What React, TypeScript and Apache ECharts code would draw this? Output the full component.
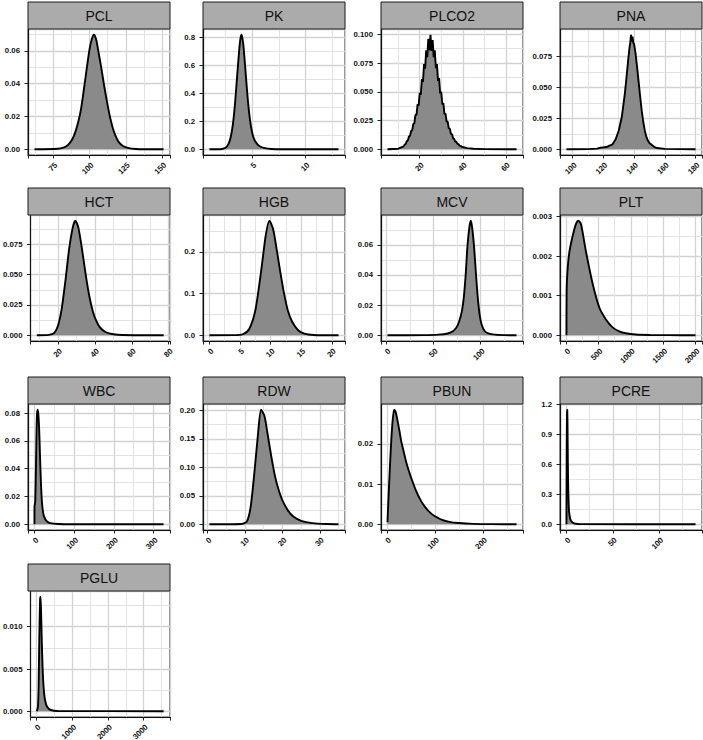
import React, { useEffect, useRef } from "react";
import * as echarts from "echarts";

// ---- data (density curves) ----
const pclX = [62, 78, 82, 85, 88, 90, 92, 94, 96, 98, 100, 101.5, 103, 104.5, 106, 108, 110, 112, 114, 116, 118, 120, 123, 127, 132, 140, 151];
const pclY = [0, 0.0003, 0.001, 0.0025, 0.006, 0.01, 0.016, 0.024, 0.036, 0.049, 0.061, 0.067, 0.0698, 0.067, 0.06, 0.05, 0.039, 0.029, 0.02, 0.013, 0.008, 0.0045, 0.002, 0.0007, 0.0002, 0.00005, 0];

const pkX = [1.0, 2.0, 2.5, 2.8, 3.0, 3.2, 3.4, 3.6, 3.8, 3.9, 4.0, 4.1, 4.2, 4.4, 4.6, 4.8, 5.0, 5.2, 5.5, 5.8, 6.2, 6.8, 8, 13.1];
const pkY = [0, 0.0005, 0.01, 0.04, 0.09, 0.18, 0.33, 0.53, 0.72, 0.79, 0.82, 0.79, 0.73, 0.54, 0.35, 0.21, 0.12, 0.07, 0.035, 0.018, 0.008, 0.002, 0.0003, 0];

const plco2X = [5, 10, 12, 12.5, 13, 13.5, 14, 14.5, 15, 15.5, 16, 16.5, 17, 17.5, 18, 18.5, 19, 19.5, 20, 20.5, 21, 21.5, 22, 22.5, 23, 23.5, 24, 24.5, 25, 25.5, 26, 26.5, 27, 27.5, 28, 28.5, 29, 29.5, 30, 30.5, 31, 31.5, 32, 32.5, 33, 33.5, 34, 34.5, 35, 35.5, 36, 36.5, 37, 37.5, 38, 38.5, 39, 39.5, 40, 42, 45, 50, 65];
const plco2Y = [0, 0.0005, 0.002, 0.0026, 0.004, 0.0048, 0.007, 0.0078, 0.011, 0.0117, 0.016, 0.0164, 0.022, 0.0225, 0.03, 0.0298, 0.039, 0.038, 0.049, 0.0475, 0.061, 0.0585, 0.074, 0.070, 0.086, 0.080, 0.096, 0.086, 0.0996, 0.0855, 0.095, 0.080, 0.086, 0.0705, 0.074, 0.0595, 0.062, 0.0485, 0.05, 0.039, 0.04, 0.0305, 0.031, 0.0238, 0.024, 0.0182, 0.018, 0.0134, 0.013, 0.0095, 0.009, 0.0067, 0.0065, 0.0047, 0.0045, 0.0032, 0.003, 0.0022, 0.002, 0.001, 0.0004, 0.0001, 0];

const pnaX = [96, 110, 116, 118, 120, 122, 124, 126, 128, 130, 132, 134, 135, 136, 137, 137.5, 138, 138.5, 139, 139.5, 140, 141, 142, 143, 144, 145, 146, 147, 148, 149, 150, 151, 152, 153, 155, 160, 170, 180];
const pnaY = [0, 0.0001, 0.0005, 0.0012, 0.0015, 0.0018, 0.003, 0.004, 0.008, 0.015, 0.026, 0.045, 0.057, 0.07, 0.082, 0.086, 0.0925, 0.087, 0.091, 0.086, 0.085, 0.077, 0.066, 0.054, 0.042, 0.031, 0.022, 0.015, 0.01, 0.007, 0.005, 0.004, 0.003, 0.002, 0.001, 0.0003, 0.0001, 0];

const hctX = [8.5, 15, 18, 20, 22, 24, 26, 28, 29.4, 31, 33, 35, 37, 39, 41, 43, 46, 50, 55, 77.3];
const hctY = [0, 0.0003, 0.002, 0.008, 0.022, 0.045, 0.071, 0.089, 0.0945, 0.089, 0.071, 0.05, 0.032, 0.019, 0.011, 0.006, 0.0025, 0.0008, 0.0002, 0];

const hgbX = [0, 4, 5.5, 6.5, 7.5, 8.5, 9.2, 9.8, 10.4, 11, 11.6, 12.2, 12.8, 13.5, 14.5, 15.5, 17, 21.1];
const hgbY = [0, 0.0003, 0.003, 0.015, 0.06, 0.16, 0.24, 0.275, 0.255, 0.205, 0.15, 0.1, 0.06, 0.033, 0.012, 0.004, 0.0008, 0];

const mcvX = [1, 40, 55, 65, 70, 74, 77, 80, 82, 84, 86, 88, 89.5, 91, 93, 95, 97, 99, 101, 104, 108, 115, 125, 138];
const mcvY = [0, 0.0001, 0.0004, 0.0012, 0.0025, 0.005, 0.009, 0.016, 0.025, 0.04, 0.06, 0.072, 0.076, 0.071, 0.058, 0.04, 0.024, 0.013, 0.007, 0.003, 0.0012, 0.0004, 0.0001, 0];

const pltX = [5, 8, 20, 50, 100, 150, 190, 230, 308, 410, 513, 615, 718, 821, 923, 1077, 1300, 1600, 2000];
const pltY = [0, 0.00115, 0.0016, 0.0021, 0.0025, 0.0028, 0.00289, 0.0028, 0.0021, 0.0013, 0.0007, 0.0004, 0.0002, 0.0001, 0.00005, 0.00002, 0.000008, 0.000003, 0];

const wbcX = [0.1, 0.3, 2, 3.5, 5, 6.5, 8, 10, 12, 14, 16, 18, 20, 23, 27, 32, 40, 60, 100, 325];
const wbcY = [0, 0.013, 0.016, 0.035, 0.062, 0.079, 0.0825, 0.079, 0.068, 0.05, 0.033, 0.02, 0.0125, 0.0068, 0.0038, 0.002, 0.0008, 0.0002, 0.00005, 0];

const rdwX = [0.5, 9, 10.5, 11.5, 12.5, 13.5, 14.3, 15.2, 16, 17, 18, 19, 20, 21.5, 23, 25, 28, 32, 35];
const rdwY = [0, 0.0005, 0.005, 0.03, 0.09, 0.16, 0.201, 0.19, 0.16, 0.12, 0.085, 0.06, 0.042, 0.024, 0.013, 0.006, 0.002, 0.0004, 0];

const pbunX = [1, 3, 6, 9, 12, 15, 18, 22, 26, 30, 35, 40, 45, 50, 60, 70, 80, 90, 100, 115, 130, 150, 180, 220, 270];
const pbunY = [0.0005, 0.006, 0.014, 0.021, 0.026, 0.0285, 0.028, 0.0258, 0.0232, 0.0205, 0.018, 0.0155, 0.0135, 0.0117, 0.0085, 0.006, 0.0042, 0.0029, 0.002, 0.0011, 0.0006, 0.0003, 0.0001, 0.00003, 0];

const pcreX = [0.1, 0.15, 0.4, 0.7, 0.95, 1.2, 1.6, 2, 2.5, 3, 4, 5, 7, 10, 15, 139];
const pcreY = [0, 0.25, 0.8, 1.1, 1.143, 1.02, 0.62, 0.36, 0.2, 0.12, 0.06, 0.035, 0.015, 0.005, 0.001, 0];

const pgluX = [10, 40, 60, 80, 100, 115, 130, 150, 170, 200, 240, 300, 400, 600, 3560];
const pgluY = [0, 0.0005, 0.003, 0.009, 0.0132, 0.01355, 0.0115, 0.008, 0.0052, 0.0028, 0.0013, 0.0005, 0.00015, 0.00004, 0];

const panelNames = ["PCL", "PK", "PLCO2", "PNA", "HCT", "HGB", "MCV", "PLT", "WBC", "RDW", "PBUN", "PCRE", "PGLU"];
const xSeries = [pclX, pkX, plco2X, pnaX, hctX, hgbX, mcvX, pltX, wbcX, rdwX, pbunX, pcreX, pgluX];
const ySeries = [pclY, pkY, plco2Y, pnaY, hctY, hgbY, mcvY, pltY, wbcY, rdwY, pbunY, pcreY, pgluY];
// tick steps (break spacing) and label decimals per panel
const xSteps = [25, 5, 20, 20, 20, 5, 50, 500, 100, 10, 100, 50, 1000];
const ySteps = [0.02, 0.2, 0.025, 0.025, 0.025, 0.1, 0.02, 0.001, 0.02, 0.05, 0.01, 0.3, 0.005];
const yDecimals = [2, 1, 3, 3, 3, 1, 2, 3, 2, 2, 2, 1, 3];
const smoothFlags = [0.25, 0.25, false, false, 0.25, 0.25, 0.25, 0.25, 0.2, 0.25, 0.25, 0.1, 0.15];

// ---- layout ----
const COL_LEFT = [28, 203, 381, 560];
const PANEL_W = 142;
const PANEL_TOP = [29, 215, 404, 591];
const PANEL_H = 126;
const STRIP_H = 27;

const FONT = "'Liberation Sans', Arial, Helvetica, sans-serif";
const LABEL_FONT = `bold 7.8px ${FONT}`;

export default function App() {
  const ref = useRef<HTMLDivElement>(null);
  useEffect(() => {
    document.body.style.margin = "0";
    const chart = echarts.init(ref.current!, null, { renderer: "svg" });
    const grid: any[] = [];
    const xAxis: any[] = [];
    const yAxis: any[] = [];
    const series: any[] = [];
    const graphic: any[] = [];
    const xRanges: [number, number][] = [];

    panelNames.forEach((name, i) => {
      const col = i % 4;
      const row = Math.floor(i / 4);
      const left = COL_LEFT[col];
      const top = PANEL_TOP[row];
      const xs = xSeries[i];
      const ys = ySeries[i];
      const xmin = Math.min(...xs);
      const xmax = Math.max(...xs);
      const xr = xmax - xmin;
      const ymax = Math.max(...ys);
      const lo = xmin - 0.05 * xr;
      const hi = xmax + 0.05 * xr;
      xRanges.push([lo, hi]);

      grid.push({
        left,
        top,
        width: PANEL_W,
        height: PANEL_H,
        show: true,
        backgroundColor: "#ffffff",
        borderColor: "#1a1a1a",
        borderWidth: 1,
      });

      xAxis.push({
        type: "value",
        gridIndex: i,
        min: lo,
        max: hi,
        minInterval: xSteps[i],
        maxInterval: xSteps[i],
        axisLine: { show: true, onZero: false, lineStyle: { color: "#111111", width: 1.2 } },
        axisTick: { show: true, length: 3.5, lineStyle: { color: "#222222", width: 1 } },
        axisLabel: { show: false },
        splitLine: { show: true, lineStyle: { color: "#d3d3d3", width: 1.3 } },
        minorTick: { show: false, splitNumber: 2 },
        minorSplitLine: { show: true, lineStyle: { color: "#e0e0e0", width: 0.9 } },
      });

      yAxis.push({
        type: "value",
        gridIndex: i,
        min: -0.05 * ymax,
        max: 1.05 * ymax,
        minInterval: ySteps[i],
        maxInterval: ySteps[i],
        axisLine: { show: true, onZero: false, lineStyle: { color: "#111111", width: 1.2 } },
        axisTick: { show: true, length: 3.5, lineStyle: { color: "#222222", width: 1 } },
        axisLabel: {
          fontSize: 7.8,
          fontWeight: "bold",
          fontFamily: FONT,
          color: "#111111",
          margin: 8,
          showMinLabel: false,
          showMaxLabel: false,
          formatter: (v: number) => v.toFixed(yDecimals[i]),
        },
        splitLine: { show: true, lineStyle: { color: "#d3d3d3", width: 1.3 } },
        minorTick: { show: false, splitNumber: 2 },
        minorSplitLine: { show: true, lineStyle: { color: "#e0e0e0", width: 0.9 } },
      });

      series.push({
        type: "line",
        name,
        xAxisIndex: i,
        yAxisIndex: i,
        data: xs.map((v, j) => [v, ys[j]]),
        showSymbol: false,
        symbol: "none",
        smooth: smoothFlags[i],
        lineStyle: { color: "#000000", width: 1.9 },
        areaStyle: { color: "#8a8a8a", opacity: 1 },
        silent: true,
      });

      graphic.push({
        type: "rect",
        shape: { x: left, y: top - STRIP_H, width: PANEL_W, height: STRIP_H },
        style: { fill: "#ababab", stroke: "#1a1a1a", lineWidth: 1 },
        z: 10,
      });
      graphic.push({
        type: "text",
        x: left + PANEL_W / 2,
        y: top - STRIP_H / 2,
        style: {
          text: name,
          fill: "#111111",
          font: `14px ${FONT}`,
          textAlign: "center",
          textVerticalAlign: "middle",
        },
        z: 11,
      });
    });

    chart.setOption({
      animation: false,
      backgroundColor: "#ffffff",
      grid,
      xAxis,
      yAxis,
      series,
      graphic,
    });

    // rotated x tick labels (45°, right-justified at the tick), placed through the axis scale
    const labels: any[] = [];
    panelNames.forEach((_, i) => {
      const [lo, hi] = xRanges[i];
      const step = xSteps[i];
      const row = Math.floor(i / 4);
      const axisY = PANEL_TOP[row] + PANEL_H;
      for (let k = Math.ceil(lo / step); k * step <= hi; k++) {
        const v = Math.round(k * step * 1e6) / 1e6;
        const px = chart.convertToPixel({ xAxisIndex: i }, v) as number;
        labels.push({
          type: "text",
          x: px,
          y: axisY + 6,
          rotation: Math.PI / 4,
          style: {
            text: String(v),
            fill: "#111111",
            font: LABEL_FONT,
            textAlign: "right",
            textVerticalAlign: "top",
          },
          z: 12,
        });
      }
    });
    chart.setOption({ graphic: [...graphic, ...labels] });

    return () => chart.dispose();
  }, []);
  return (
    <div
      ref={ref}
      style={{ position: "absolute", left: 0, top: 0, width: 703, height: 740 }}
    />
  );
}
